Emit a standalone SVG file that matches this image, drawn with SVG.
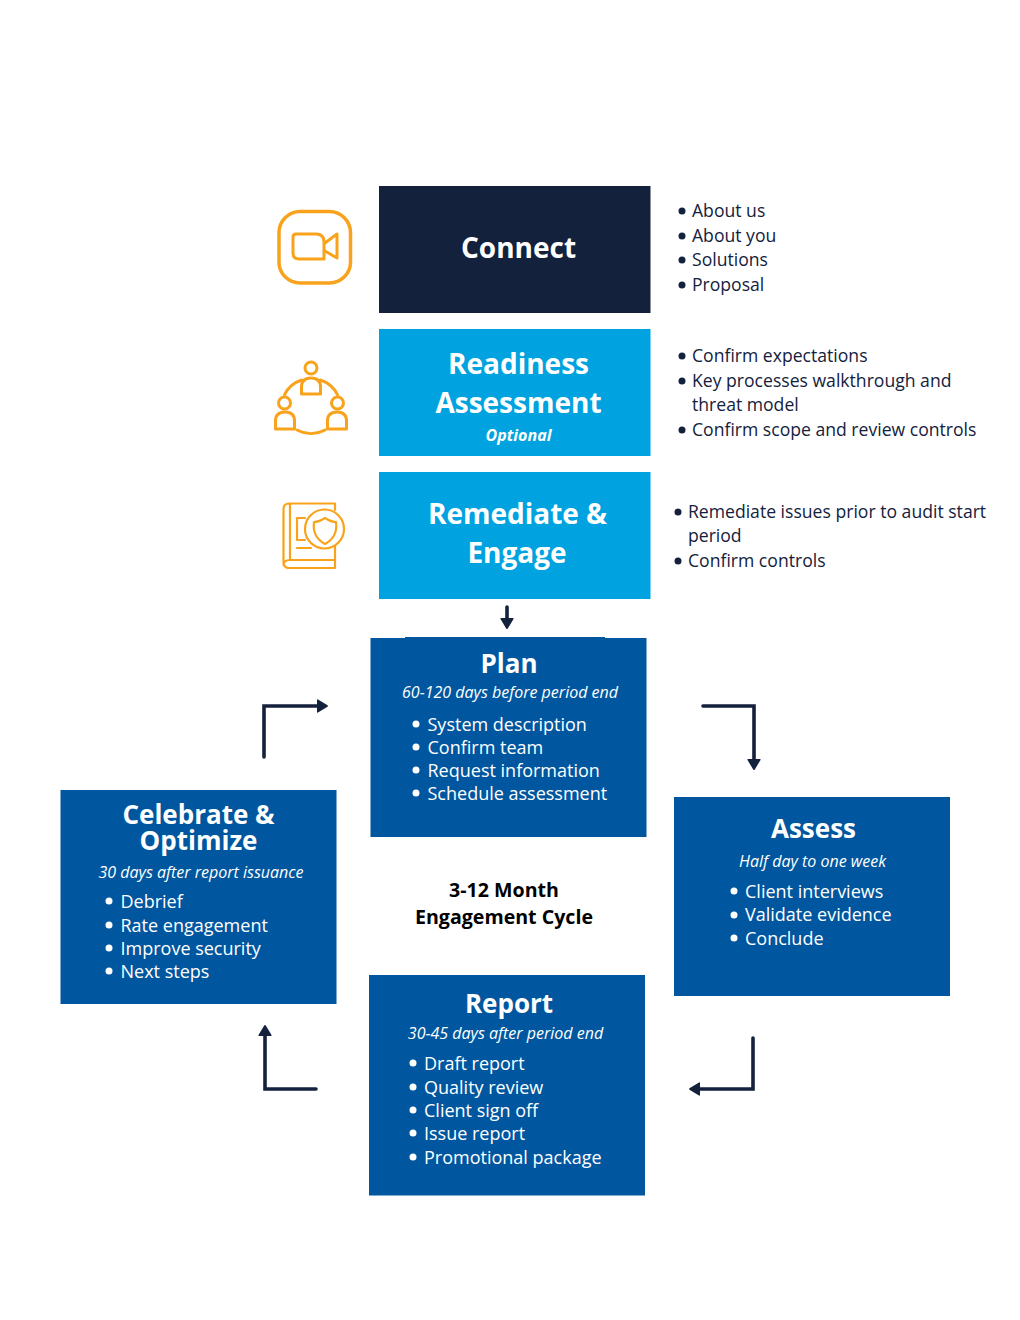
<svg xmlns="http://www.w3.org/2000/svg" width="1020" height="1320" viewBox="0 0 1020 1320">
<style>
text{font-family:"Open Sans","Noto Sans",sans-serif}
.t{font-weight:700;fill:#fff;text-anchor:middle}
.h{font-size:28px}
.s{font-size:28px}
.u{font-size:26px}
.i{font-size:16px;font-style:italic;fill:#fff;text-anchor:middle}
.l{font-size:18px;fill:#fff}
.d{font-size:17.6px;fill:#14213d}
.w{fill:#fff}
.k{fill:#14213d}
.ic{fill:none;stroke:#f9a31c;stroke-width:3;stroke-linejoin:round;stroke-linecap:round}
.bk{stroke-width:2.2}
.c{fill:none;stroke:#14213d;stroke-width:3.600;stroke-linecap:round;stroke-linejoin:miter}
.b{fill:#00579f}
.a{fill:#00a3e0}
</style>
<defs>
<marker id="ah" markerUnits="userSpaceOnUse" markerWidth="14" markerHeight="16" refX="5" refY="8" orient="auto"><path d="M0 2Q0 1 1 1.500L10.500 7.200Q11.500 8 10.500 8.800L1 14.500Q0 15 0 14Z" fill="#14213d"/></marker>
</defs>
<rect width="1020" height="1320" fill="#fff"/>
<g id="connectors">
<path class="c" d="M507 607V623" marker-end="url(#ah)"/>
<path class="c" d="M264 757V706H322" marker-end="url(#ah)"/>
<path class="c" d="M703 706H754V764" marker-end="url(#ah)"/>
<path class="c" d="M753 1038V1089H695" marker-end="url(#ah)"/>
<path class="c" d="M316 1089H265V1031" marker-end="url(#ah)"/>
</g>
<g id="icon-video">
<rect class="ic" x="279" y="211.500" width="71.500" height="71.500" rx="21" style="stroke-width:3.500"/>
<path class="ic" d="M296 234H316Q324 234 324 242V259H299Q293 259 293 253V237Q293 234 296 234ZM325 243L337 234V258L325 251"/>
</g>
<g id="icon-people">
<circle class="ic" cx="311" cy="368" r="6"/>
<path class="ic" d="M301.500 394V387Q301.500 378 311 378Q320.500 378 320.500 387V394Z"/>
<path class="ic" d="M301.700 380A29 27.500 0 0 0 284.500 394.800M320.300 380A29 27.500 0 0 1 337.500 394.800M297 430A29 27.500 0 0 0 325 430"/>
<circle class="ic" cx="284.500" cy="403" r="6"/>
<circle class="ic" cx="337.500" cy="403" r="6"/>
<path class="ic" d="M275.500 429V421Q275.500 412 285 412Q294.500 412 294.500 421V429ZM327.500 429V421Q327.500 412 337 412Q346.500 412 346.500 421V429Z"/>
</g>
<g id="icon-book">
<path class="ic bk" d="M335 510V503.500H289Q283.500 503.500 283.500 509V562Q283.500 568 289 568H335V560H290Q283.500 560 283.500 565M290 503.500V560M335 546V560M305 518H297V540H305M297 548H311"/>
<circle class="ic bk" cx="324.500" cy="529" r="19.500"/>
<path class="ic bk" d="M325 518Q331 522 336 522Q338 537 325 544Q312 537 314 522Q319 522 325 518Z"/>
</g>
<g id="connect">
<rect x="379" y="186" width="271.500" height="127" fill="#14213d"/>
<text class="t h" x="518.500" y="258">Connect</text>
</g>
<g id="connect-list">
<circle class="k" cx="682" cy="211" r="3.500"/><text class="d" x="692" y="217">About us</text>
<circle class="k" cx="682" cy="236" r="3.500"/><text class="d" x="692" y="242">About you</text>
<circle class="k" cx="682" cy="260" r="3.500"/><text class="d" x="692" y="266">Solutions</text>
<circle class="k" cx="682" cy="285" r="3.500"/><text class="d" x="692" y="291">Proposal</text>
</g>
<g id="readiness">
<rect class="a" x="379" y="329" width="271.500" height="127"/>
<text class="t s" x="518.500" y="374">Readiness</text>
<text class="t s" x="518.500" y="413">Assessment</text>
<text class="i" x="518.500" y="441" style="font-weight:700">Optional</text>
</g>
<g id="readiness-list">
<circle class="k" cx="682" cy="356" r="3.500"/><text class="d" x="692" y="362">Confirm expectations</text>
<circle class="k" cx="682" cy="381" r="3.500"/><text class="d" x="692" y="387">Key processes walkthrough and</text>
<text class="d" x="692" y="411">threat model</text>
<circle class="k" cx="682" cy="430" r="3.500"/><text class="d" x="692" y="436">Confirm scope and review controls</text>
</g>
<g id="remediate">
<rect class="a" x="379" y="472" width="271.500" height="127"/>
<text class="t s" x="517.500" y="524">Remediate &amp;</text>
<text class="t s" x="517" y="563">Engage</text>
</g>
<g id="remediate-list">
<circle class="k" cx="678" cy="512" r="3.500"/><text class="d" x="688" y="518">Remediate issues prior to audit start</text>
<text class="d" x="688" y="542">period</text>
<circle class="k" cx="678" cy="561" r="3.500"/><text class="d" x="688" y="567">Confirm controls</text>
</g>
<g id="plan">
<rect class="b" x="405" y="637" width="200" height="2"/>
<rect class="b" x="370.500" y="638" width="276" height="199"/>
<text class="t u" x="509" y="673">Plan</text>
<text class="i" x="510" y="698">60-120 days before period end</text>
<circle class="w" cx="416" cy="724" r="3.500"/><text class="l" x="427.500" y="730.500">System description</text>
<circle class="w" cx="416" cy="747" r="3.500"/><text class="l" x="427.500" y="753.500">Confirm team</text>
<circle class="w" cx="416" cy="770" r="3.500"/><text class="l" x="427.500" y="776.500">Request information</text>
<circle class="w" cx="416" cy="793" r="3.500"/><text class="l" x="427.500" y="799.500">Schedule assessment</text>
</g>
<g id="assess">
<rect class="b" x="674" y="797" width="276" height="199"/>
<text class="t u" x="813.500" y="838">Assess</text>
<text class="i" x="812.500" y="867">Half day to one week</text>
<circle class="w" cx="734" cy="891" r="3.500"/><text class="l" x="745" y="897.500">Client interviews</text>
<circle class="w" cx="734" cy="915" r="3.500"/><text class="l" x="745" y="921">Validate evidence</text>
<circle class="w" cx="734" cy="938" r="3.500"/><text class="l" x="745" y="944.500">Conclude</text>
</g>
<g id="celebrate">
<rect class="b" x="60.500" y="790" width="276" height="214"/>
<text class="t u" x="198.500" y="824">Celebrate &amp;</text>
<text class="t u" x="198.500" y="850">Optimize</text>
<text class="i" x="201" y="878">30 days after report issuance</text>
<circle class="w" cx="109" cy="901" r="3.500"/><text class="l" x="120.500" y="907.500">Debrief</text>
<circle class="w" cx="109" cy="925" r="3.500"/><text class="l" x="120.500" y="931.500">Rate engagement</text>
<circle class="w" cx="109" cy="948" r="3.500"/><text class="l" x="120.500" y="954.500">Improve security</text>
<circle class="w" cx="109" cy="971" r="3.500"/><text class="l" x="120.500" y="977.500">Next steps</text>
</g>
<g id="report">
<rect class="b" x="369" y="975" width="276" height="220.500"/>
<text class="t u" x="509" y="1013">Report</text>
<text class="i" x="505.500" y="1039">30-45 days after period end</text>
<circle class="w" cx="413" cy="1063" r="3.500"/><text class="l" x="424" y="1069.500">Draft report</text>
<circle class="w" cx="413" cy="1087" r="3.500"/><text class="l" x="424" y="1093.500">Quality review</text>
<circle class="w" cx="413" cy="1110" r="3.500"/><text class="l" x="424" y="1116.500">Client sign off</text>
<circle class="w" cx="413" cy="1133" r="3.500"/><text class="l" x="424" y="1139.500">Issue report</text>
<circle class="w" cx="413" cy="1157" r="3.500"/><text class="l" x="424" y="1163.500">Promotional package</text>
</g>
<g id="cycle">
<text x="504" y="897" text-anchor="middle" font-size="19.600" font-weight="700" fill="#000">3-12 Month</text>
<text x="504" y="924" text-anchor="middle" font-size="19.600" font-weight="700" fill="#000">Engagement Cycle</text>
</g>
</svg>
